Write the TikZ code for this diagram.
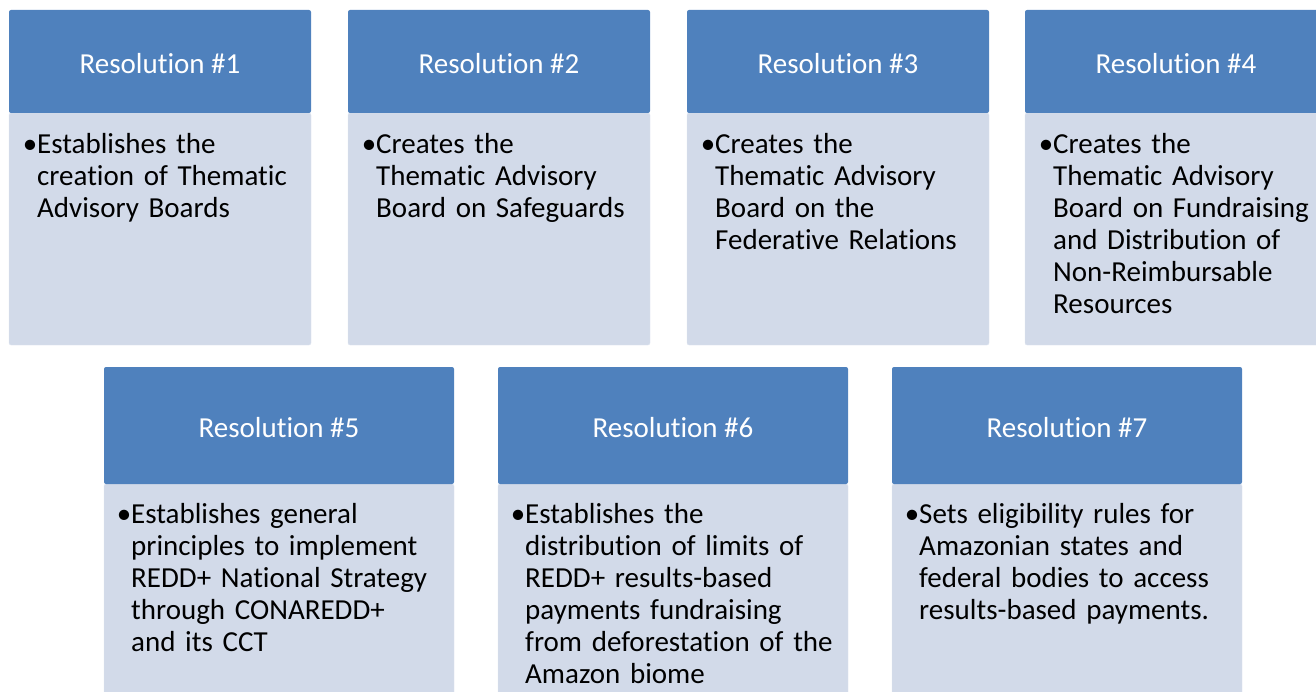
\documentclass[tikz,border=0pt]{standalone}
\usepackage{fontspec}
\setmainfont{Carlito}[Ligatures=NoCommon]
\usepackage{tikz}
\definecolor{resblue}{RGB}{79,129,189}
\definecolor{respale}{RGB}{210,218,233}
\definecolor{resedge}{RGB}{222,228,240}
\newcommand{\resitem}{\llap{\textbullet}}
\tikzset{every picture/.append style={x=1pt, y=-1pt}}
\tikzset{reshead/.style={rectangle, rounded corners=2, fill=resblue, text=white, inner sep=0, text height=24pt, minimum width=302, minimum height=103, font=\fontsize{29}{32}\selectfont}}
\tikzset{resbody/.style={rectangle, rounded corners=2, fill=respale, draw=resedge, inner sep=0, minimum width=302, minimum height=232}}
\tikzset{restext/.style={anchor=north west, inner sep=0, text width=#1, align=left, font=\fontsize{29}{32}\selectfont}}
\tikzset{restext/.default=275}

\begin{document}
\begin{tikzpicture}
\useasboundingbox (0,0) rectangle (1316,692);
\clip (0,0) rectangle (1316,692);

% upper row
\node (b1) at (160,229)[resbody]{};
\node (h1) at (160,61.5)[reshead]{Resolution \#1};
\node (t1) at (37,133)[restext]{\resitem Establishes the\\ creation of Thematic\\ Advisory Boards};

\node (b2) at (499,229)[resbody]{};
\node (h2) at (499,61.5)[reshead]{Resolution \#2};
\node (t2) at (376,133)[restext]{\resitem Creates the\\ Thematic Advisory\\ Board on Safeguards};

\node (b3) at (838,229)[resbody]{};
\node (h3) at (838,61.5)[reshead]{Resolution \#3};
\node (t3) at (715,133)[restext]{\resitem Creates the\\ Thematic Advisory\\ Board on the\\ Federative Relations};

\node (b4) at (1176,229)[resbody]{};
\node (h4) at (1176,61.5)[reshead]{Resolution \#4};
\node (t4) at (1053,133)[restext]{\resitem Creates the\\ Thematic Advisory\\ Board on Fundraising\\ and Distribution of\\ Non-Reimbursable\\ Resources};

% lower row, wider boxes
\node (b5) at (279,604)[resbody, minimum width=350, minimum height=240]{};
\node (h5) at (279,425.5)[reshead, minimum width=350, minimum height=117]{Resolution \#5};
\node (t5) at (131,503)[restext=310]{\resitem Establishes general\\ principles to implement\\ REDD+ National Strategy\\ through CONAREDD+\\ and its CCT};

\node (b6) at (673,604)[resbody, minimum width=350, minimum height=240]{};
\node (h6) at (673,425.5)[reshead, minimum width=350, minimum height=117]{Resolution \#6};
\node (t6) at (525,503)[restext=310]{\resitem Establishes the\\ distribution of limits of\\ REDD+ results-based\\ payments fundraising\\ from deforestation of the\\ Amazon biome};

\node (b7) at (1067,604)[resbody, minimum width=350, minimum height=240]{};
\node (h7) at (1067,425.5)[reshead, minimum width=350, minimum height=117]{Resolution \#7};
\node (t7) at (919,503)[restext=310]{\resitem Sets eligibility rules for\\ Amazonian states and\\ federal bodies to access\\ results-based payments.};
\end{tikzpicture}
\end{document}
